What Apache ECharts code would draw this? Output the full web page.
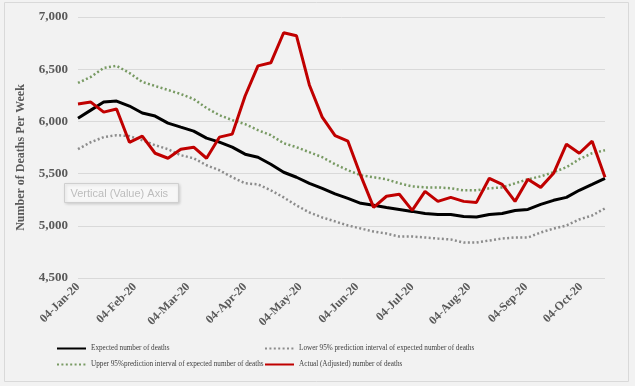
<!DOCTYPE html>
<html>
<head>
<meta charset="utf-8">
<script src="https://cdn.jsdelivr.net/npm/echarts@6/dist/echarts.min.js"></script>
<style>
html,body{margin:0;padding:0;background:#f2f2f2;}
#chart{width:635px;height:386px;}
</style>
</head>
<body>
<div id="chart"></div>
<script>
// Week-ending dates
var weeks = ['2020-01-04','2020-01-11','2020-01-18','2020-01-25','2020-02-01','2020-02-08','2020-02-15','2020-02-22','2020-02-29',
  '2020-03-07','2020-03-14','2020-03-21','2020-03-28','2020-04-04','2020-04-11','2020-04-18','2020-04-25','2020-05-02',
  '2020-05-09','2020-05-16','2020-05-23','2020-05-30','2020-06-06','2020-06-13','2020-06-20','2020-06-27','2020-07-04',
  '2020-07-11','2020-07-18','2020-07-25','2020-08-01','2020-08-08','2020-08-15','2020-08-22','2020-08-29','2020-09-05',
  '2020-09-12','2020-09-19','2020-09-26','2020-10-03','2020-10-10','2020-10-17'];
var expected = [6031,6108,6185,6195,6147,6080,6051,5984,5945,5907,5840,5801,5753,5686,5657,5590,5513,5465,5407,5359,5306,5263,5215,5196,5176,5157,5138,5118,5109,5109,5090,5085,5109,5118,5147,5157,5205,5244,5272,5340,5397,5455];
var lower95 = [5734,5801,5849,5868,5859,5820,5772,5734,5676,5647,5580,5532,5465,5407,5397,5340,5272,5195,5128,5080,5042,5003,4974,4945,4926,4897,4897,4888,4878,4869,4840,4840,4859,4878,4888,4888,4936,4974,5003,5061,5099,5167];
var upper95 = [6368,6426,6512,6532,6464,6378,6339,6301,6262,6214,6128,6060,6012,5974,5916,5868,5791,5753,5705,5657,5590,5532,5484,5465,5445,5407,5378,5368,5368,5359,5340,5340,5359,5368,5407,5445,5474,5513,5561,5638,5695,5724];
var actual = [6166,6185,6089,6118,5800,5859,5695,5647,5734,5753,5647,5849,5878,6243,6532,6561,6849,6820,6349,6041,5863,5810,5480,5177,5283,5302,5148,5330,5234,5272,5234,5224,5455,5397,5234,5445,5368,5503,5782,5695,5811,5465];
var tickDates = ['2020-01-04','2020-02-04','2020-03-04','2020-04-04','2020-05-04','2020-06-04','2020-07-04','2020-08-04','2020-09-04','2020-10-04'];
var seriesNames = ['Expected number of deaths','Lower 95% prediction interval of expected number of deaths','Upper 95%prediction interval of expected number of deaths','Actual (Adjusted) number of deaths'];
var yTitle = 'Number of Deaths Per Week';

function ts(s){var p=s.split('-');return Date.UTC(+p[0],+p[1]-1,+p[2]);}
var MON=['Jan','Feb','Mar','Apr','May','Jun','Jul','Aug','Sep','Oct','Nov','Dec'];
function fmt(v){var d=new Date(v);var dd=d.getUTCDate();return (dd<10?'0':'')+dd+'-'+MON[d.getUTCMonth()]+'-'+String(d.getUTCFullYear()).slice(2);}
function pairs(arr){return arr.map(function(v,i){return [ts(weeks[i]),v];});}

var serif='"Liberation Serif","Times New Roman",serif';
var chart=echarts.init(document.getElementById('chart'),null,{renderer:'canvas'});
var dotted=[2,2.4];
var legendBase={orient:'vertical',top:345,padding:0,itemWidth:29,itemHeight:8,itemGap:9,
  itemStyle:{opacity:0,borderWidth:0},
  textStyle:{fontFamily:serif,fontSize:7.2,color:'#404040'}};
chart.setOption({
  backgroundColor:'#f2f2f2',
  animation:false,
  grid:{left:78,right:30,top:17,bottom:108},
  xAxis:{
    type:'value',
    min:ts(weeks[0]),max:ts(weeks[weeks.length-1]),
    axisLine:{show:false},axisTick:{show:false},splitLine:{show:false},
    axisLabel:{customValues:tickDates.map(ts),formatter:function(v){return fmt(v);},rotate:45,margin:7,
      fontFamily:serif,fontWeight:'bold',fontSize:12,color:'#595959',hideOverlap:false}
  },
  yAxis:{
    type:'value',min:4500,max:7000,interval:500,
    axisLine:{show:false},axisTick:{show:false},
    splitLine:{lineStyle:{color:'#d9d9d9',width:1}},
    axisLabel:{margin:10,fontFamily:serif,fontWeight:'bold',fontSize:13,color:'#595959',
      formatter:function(v){return v.toLocaleString('en-US');}},
    name:yTitle,nameLocation:'middle',nameRotate:90,nameGap:51,
    nameTextStyle:{fontFamily:serif,fontWeight:'bold',fontSize:12,color:'#595959',padding:[0,20,0,0]}
  },
  legend:[
    Object.assign({},legendBase,{data:[seriesNames[0],seriesNames[2]],left:56}),
    Object.assign({},legendBase,{data:[seriesNames[1],seriesNames[3]],left:264})
  ],
  series:[
    {name:seriesNames[0],type:'line',data:pairs(expected),symbol:'none',lineStyle:{color:'#000000',width:3},itemStyle:{color:'#000000'}},
    {name:seriesNames[1],type:'line',data:pairs(lower95),symbol:'none',lineStyle:{color:'#8c8c8c',width:2.5,type:dotted},itemStyle:{color:'#8c8c8c'}},
    {name:seriesNames[2],type:'line',data:pairs(upper95),symbol:'none',lineStyle:{color:'#789a63',width:2.5,type:dotted},itemStyle:{color:'#789a63'}},
    {name:seriesNames[3],type:'line',data:pairs(actual),symbol:'none',lineStyle:{color:'#c00000',width:3},itemStyle:{color:'#c00000'}}
  ],
  graphic:[
    {type:'rect',shape:{x:4.5,y:2.5,width:624,height:379},style:{fill:'none',stroke:'#d9d9d9',lineWidth:1},silent:true},
    {type:'group',left:64,top:183,children:[
      {type:'rect',shape:{x:0,y:0,width:114,height:19},style:{fill:'#f7f7f7',stroke:'#cfcfcf',lineWidth:1,shadowBlur:3,shadowOffsetX:1,shadowOffsetY:1,shadowColor:'rgba(0,0,0,0.15)'}},
      {type:'text',x:6,y:10,style:{text:'Vertical (Value) Axis',fontFamily:'"Liberation Sans",Arial,sans-serif',fontSize:11,fill:'#bdbdbd',verticalAlign:'middle'}}
    ]}
  ]
});
</script>
</body>
</html>
